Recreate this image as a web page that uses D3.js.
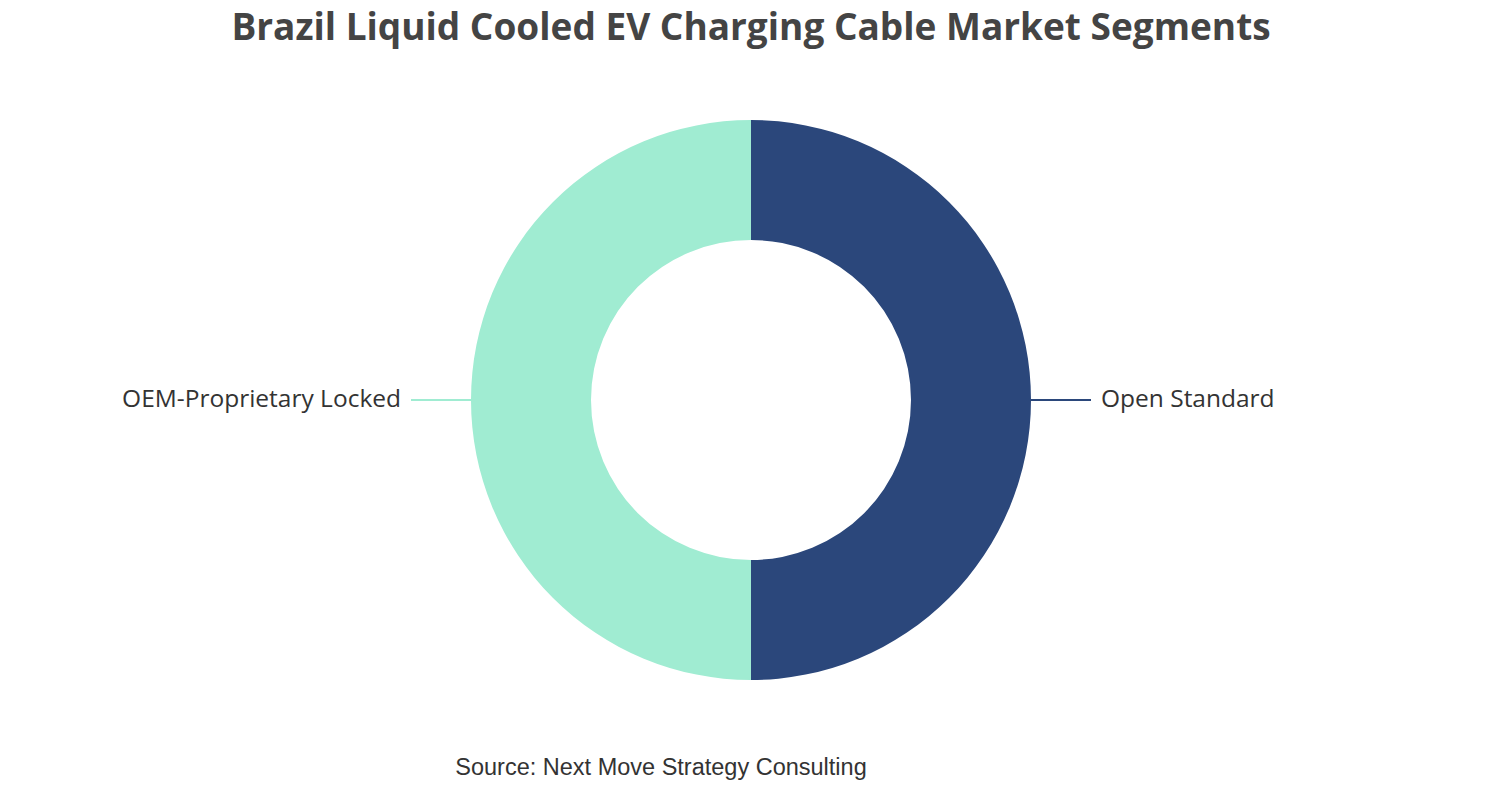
<!DOCTYPE html>
<html>
<head>
<meta charset="utf-8">
<script src="https://cdn.jsdelivr.net/npm/d3@7"></script>
<style>
  body { margin: 0; background: #fff; }
</style>
</head>
<body>
<div id="js-svg-container"></div>
<script>
let segments = ['Open Standard', 'OEM-Proprietary Locked'];
let shares = [50, 50];
let colors = ['#2b477b', '#a0ecd2'];
let chartTitle = 'Brazil Liquid Cooled EV Charging Cable Market Segments';
let sourceText = 'Source: Next Move Strategy Consulting';

let width = 1502, height = 800;
let cx = 751, cy = 400;
let outerR = 280, innerR = 160;

let svg = d3.select('#js-svg-container')
    .append('svg')
    .attr('width', width)
    .attr('height', height);

svg.append('text')
    .attr('x', cx)
    .attr('y', 40)
    .attr('text-anchor', 'middle')
    .style('font-family', '"Open Sans", "Noto Sans", sans-serif')
    .style('font-weight', 'bold')
    .style('font-size', '37px')
    .style('fill', '#444')
    .text(chartTitle);

let data = segments.map((s, i) => ({ name: s, value: shares[i], color: colors[i] }));

let pie = d3.pie()
    .value(d => d.value)
    .sort(null);

let arc = d3.arc()
    .innerRadius(innerR)
    .outerRadius(outerR);

let g = svg.append('g')
    .attr('transform', 'translate(' + cx + ',' + cy + ')');

let arcs = pie(data);

g.selectAll('path')
    .data(arcs)
    .enter()
    .append('path')
    .attr('d', arc)
    .style('fill', d => d.data.color);

// label leaders: horizontal line from the arc's midpoint outward
arcs.forEach(d => {
    let mid = (d.startAngle + d.endAngle) / 2;
    let side = Math.sin(mid) >= 0 ? 1 : -1;
    let px = Math.sin(mid) * outerR;
    let py = -Math.cos(mid) * outerR;
    g.append('line')
        .attr('x1', px)
        .attr('y1', py)
        .attr('x2', px + side * 60)
        .attr('y2', py)
        .style('stroke', d.data.color)
        .style('stroke-width', 2);
    g.append('text')
        .attr('x', px + side * 70)
        .attr('y', py)
        .attr('dy', '0.3em')
        .attr('text-anchor', side > 0 ? 'start' : 'end')
        .style('font-family', '"Open Sans", "Noto Sans", sans-serif')
        .style('font-size', '24.5px')
        .style('fill', '#333')
        .text(d.data.name);
});

svg.append('text')
    .attr('x', 661)
    .attr('y', 775)
    .attr('text-anchor', 'middle')
    .style('font-family', '"Liberation Sans", Arial, sans-serif')
    .style('font-size', '23.5px')
    .style('fill', '#333')
    .text(sourceText);
</script>
</body>
</html>
